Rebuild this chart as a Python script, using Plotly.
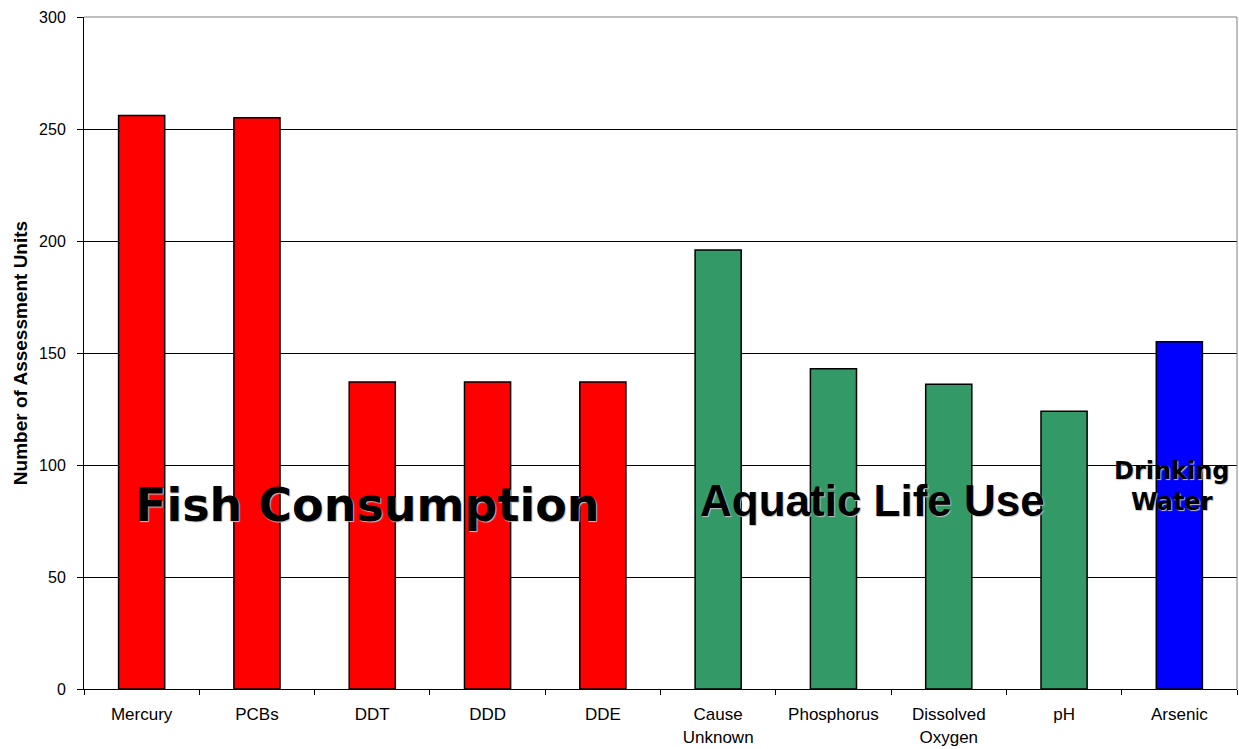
import plotly.graph_objects as go

# Impairment causes and the number of assessment units for each
causes = ["Mercury", "PCBs", "DDT", "DDD", "DDE",
          "Cause<br>Unknown", "Phosphorus", "Dissolved<br>Oxygen", "pH", "Arsenic"]
units = [256, 255, 137, 137, 137, 196, 143, 136, 124, 155]
use_groups = ["Fish", "Fish", "Fish", "Fish", "Fish",
              "Aquatic", "Aquatic", "Aquatic", "Aquatic", "Drinking"]

group_colors = {"Fish": "#FF0000", "Aquatic": "#339966", "Drinking": "#0000FF"}
y_ticks = [0, 50, 100, 150, 200, 250, 300]

fig = go.Figure(go.Bar(
    x=causes,
    y=units,
    marker=dict(color=[group_colors[g] for g in use_groups],
                line=dict(color="#000000", width=1.5)),
    showlegend=False,
))

shadow = "1px 1px 1px #c0c0c0"
fig.add_annotation(text="Fish Consumption", xref="paper", yref="paper",
                   x=0.246, y=0.274, xanchor="center", yanchor="middle",
                   showarrow=False,
                   font=dict(family="DejaVu Sans", size=46, color="#000000",
                             weight="bold", shadow=shadow))
fig.add_annotation(text="Aquatic Life Use", xref="paper", yref="paper",
                   x=0.684, y=0.281, xanchor="center", yanchor="middle",
                   showarrow=False,
                   font=dict(family="Liberation Sans", size=44, color="#000000",
                             weight="bold", shadow=shadow))
fig.add_annotation(text="Drinking<br>Water", xref="paper", yref="paper",
                   x=0.944, y=0.302, xanchor="center", yanchor="middle",
                   showarrow=False,
                   font=dict(family="DejaVu Sans", size=24, color="#000000",
                             weight="bold", shadow=shadow))

fig.update_layout(
    width=1239, height=749,
    margin=dict(l=84, r=2, t=17, b=60),
    plot_bgcolor="#FFFFFF", paper_bgcolor="#FFFFFF",
    bargap=0.6,
    font=dict(family="Liberation Sans, Arial, sans-serif", size=15, color="#000000"),
    xaxis=dict(
        showline=True, linecolor="#000000", linewidth=1,
        ticks="outside", ticklen=5, tickcolor="#000000",
        tickson="boundaries", showgrid=False,
        ticklabelstandoff=10,
        tickfont=dict(size=17),
    ),
    yaxis=dict(
        range=[0, 300], tickvals=y_ticks,
        showline=True, linecolor="#000000", linewidth=1,
        ticks="outside", ticklen=6, tickcolor="#000000",
        ticklabelstandoff=8,
        showgrid=True, gridcolor="#000000", gridwidth=1,
        tickfont=dict(size=16),
        title=dict(text="<b>Number of Assessment Units</b>",
                   font=dict(size=19), standoff=6),
        zeroline=False,
    ),
)

# light frame on the top and right of the plotting area
fig.add_shape(type="line", xref="paper", yref="paper", x0=1, x1=1, y0=0, y1=1,
              line=dict(color="#808080", width=1))
fig.add_shape(type="line", xref="paper", yref="paper", x0=0, x1=1, y0=1, y1=1,
              line=dict(color="#808080", width=1))

fig.write_html("out.html")
